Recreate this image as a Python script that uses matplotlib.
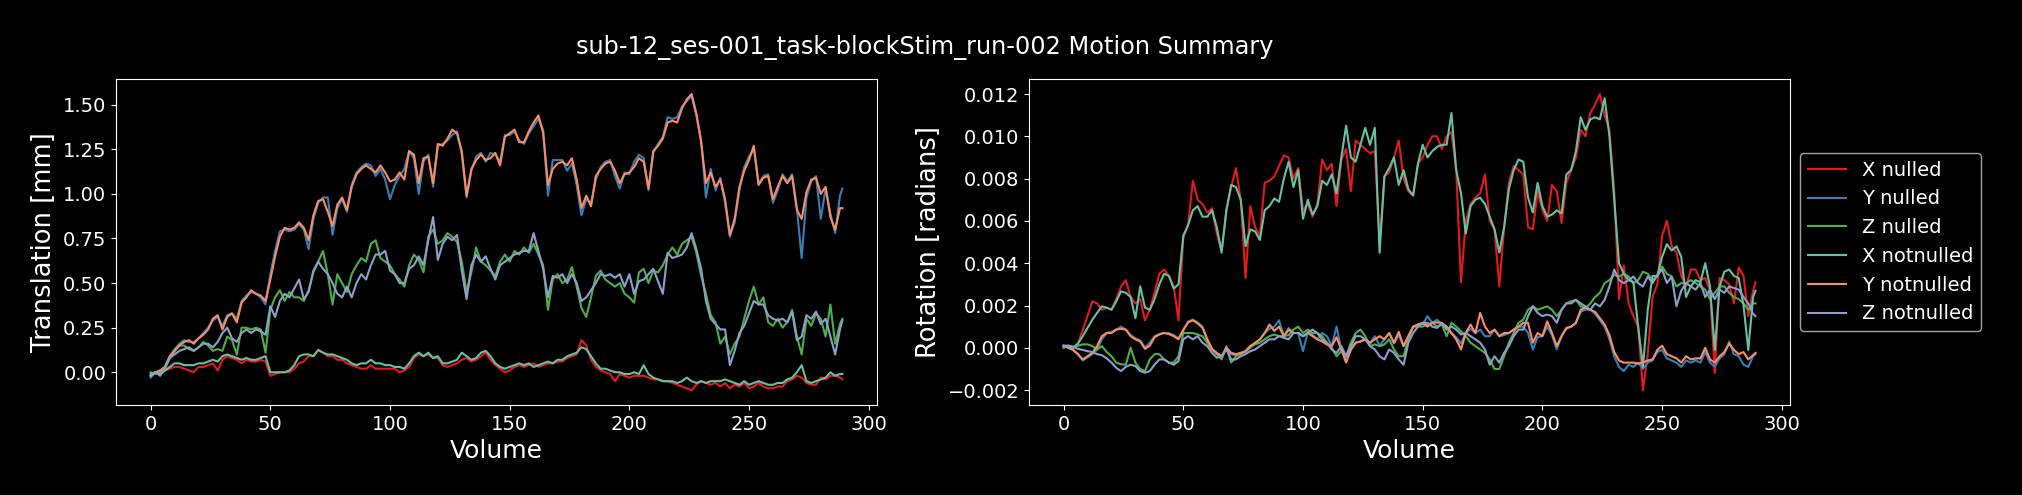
import matplotlib

matplotlib.use("Agg")
import matplotlib.pyplot as plt

plt.style.use("dark_background")

TITLE = "sub-12_ses-001_task-blockStim_run-002 Motion Summary"
LABELS = ["X nulled", "Y nulled", "Z nulled", "X notnulled", "Y notnulled", "Z notnulled"]
COLORS = ["#e41a1c", "#377eb8", "#4daf4a", "#66c2a5", "#fc8d62", "#8da0cb"]

# volumes read every second frame, plus the last one
volumes = list(range(0, 289, 2)) + [289]

# --- translation [mm] ---
trans_x_nulled = [
    -0.02, 0.00, -0.01, 0.01, 0.02, 0.03, 0.03, 0.02, 0.01, 0.00,
    0.03, 0.03, 0.04, 0.05, 0.01, 0.07, 0.09, 0.08, 0.07, 0.05,
    0.07, 0.06, 0.06, 0.07, 0.06, -0.02, -0.01, 0.00, 0.00, 0.00,
    0.02, 0.05, 0.06, 0.09, 0.09, 0.125, 0.11, 0.09, 0.09, 0.07,
    0.07, 0.05, 0.04, 0.03, 0.02, 0.02, 0.04, 0.02, 0.02, 0.02,
    0.02, 0.02, 0.00, 0.01, 0.03, 0.08, 0.10, 0.09, 0.10, 0.08,
    0.08, 0.04, 0.03, 0.04, 0.05, 0.07, 0.08, 0.06, 0.07, 0.09,
    0.11, 0.07, 0.04, 0.02, 0.00, 0.01, 0.03, 0.04, 0.03, 0.04,
    0.05, 0.03, 0.04, 0.05, 0.05, 0.06, 0.06, 0.08, 0.09, 0.10,
    0.18, 0.15, 0.07, 0.03, 0.01, 0.00, -0.01, -0.05, -0.01, -0.02,
    -0.03, -0.02, -0.02, -0.02, -0.03, -0.04, -0.04, -0.05, -0.05, -0.06,
    -0.07, -0.08, -0.09, -0.10, -0.07, -0.05, -0.06, -0.07, -0.06, -0.08,
    -0.06, -0.09, -0.07, -0.08, -0.06, -0.09, -0.08, -0.06, -0.08, -0.09,
    -0.09, -0.08, -0.08, -0.05, -0.04, -0.02, -0.03, -0.06, -0.07, -0.07,
    -0.03, -0.04, -0.02, -0.02, -0.03, -0.04,
]
trans_y_nulled = [
    -0.03, 0.00, 0.01, 0.03, 0.09, 0.13, 0.16, 0.18, 0.17, 0.17,
    0.19, 0.22, 0.25, 0.29, 0.31, 0.26, 0.32, 0.33, 0.30, 0.40,
    0.43, 0.45, 0.44, 0.42, 0.38, 0.55, 0.68, 0.79, 0.80, 0.79,
    0.80, 0.83, 0.80, 0.69, 0.86, 0.95, 0.98, 0.98, 0.77, 0.92,
    0.97, 0.90, 1.05, 1.12, 1.15, 1.17, 1.16, 1.10, 1.14, 1.08,
    0.97, 1.05, 1.10, 1.14, 1.24, 1.20, 1.00, 1.18, 1.22, 1.04,
    1.27, 1.28, 1.30, 1.33, 1.35, 1.22, 0.98, 1.13, 1.21, 1.23,
    1.18, 1.23, 1.22, 1.18, 1.33, 1.33, 1.35, 1.30, 1.28, 1.34,
    1.38, 1.42, 1.36, 0.99, 1.19, 1.19, 1.19, 1.13, 1.17, 1.05,
    0.88, 0.97, 0.95, 1.08, 1.15, 1.18, 1.19, 1.10, 1.03, 1.12,
    1.11, 1.18, 1.22, 1.20, 1.02, 1.23, 1.28, 1.32, 1.43, 1.42,
    1.43, 1.49, 1.52, 1.55, 1.44, 1.30, 0.98, 1.14, 1.02, 1.09,
    0.95, 0.76, 0.84, 1.02, 1.15, 1.21, 1.25, 1.06, 1.10, 1.11,
    0.95, 1.02, 1.11, 1.07, 1.11, 0.92, 0.64, 0.98, 1.07, 1.10,
    0.86, 1.03, 0.89, 0.78, 0.99, 1.03,
]
trans_z_nulled = [
    0.00, -0.01, 0.00, 0.02, 0.08, 0.12, 0.15, 0.15, 0.13, 0.12,
    0.14, 0.17, 0.15, 0.12, 0.13, 0.12, 0.20, 0.18, 0.10, 0.25,
    0.25, 0.24, 0.25, 0.24, 0.11, 0.35, 0.42, 0.46, 0.40, 0.45,
    0.42, 0.42, 0.40, 0.46, 0.56, 0.62, 0.68, 0.55, 0.38, 0.55,
    0.50, 0.45, 0.55, 0.60, 0.64, 0.62, 0.72, 0.74, 0.64, 0.62,
    0.60, 0.55, 0.52, 0.48, 0.60, 0.66, 0.63, 0.56, 0.76, 0.80,
    0.72, 0.74, 0.78, 0.76, 0.73, 0.62, 0.45, 0.56, 0.70, 0.62,
    0.60, 0.57, 0.54, 0.62, 0.66, 0.62, 0.68, 0.66, 0.70, 0.67,
    0.72, 0.66, 0.60, 0.35, 0.52, 0.55, 0.50, 0.52, 0.59, 0.48,
    0.36, 0.31, 0.42, 0.54, 0.57, 0.52, 0.50, 0.48, 0.50, 0.44,
    0.42, 0.39, 0.56, 0.58, 0.50, 0.57, 0.56, 0.60, 0.66, 0.70,
    0.66, 0.72, 0.74, 0.76, 0.67, 0.54, 0.44, 0.32, 0.28, 0.16,
    0.20, 0.10, 0.16, 0.20, 0.30, 0.40, 0.48, 0.38, 0.42, 0.28,
    0.26, 0.30, 0.25, 0.28, 0.35, 0.20, 0.10, 0.30, 0.26, 0.33,
    0.30, 0.20, 0.38, 0.16, 0.27, 0.30,
]
trans_x_notnulled = [
    -0.01, 0.00, -0.01, 0.01, 0.03, 0.05, 0.05, 0.04, 0.04, 0.04,
    0.05, 0.05, 0.06, 0.07, 0.06, 0.09, 0.10, 0.09, 0.08, 0.07,
    0.08, 0.07, 0.07, 0.08, 0.09, 0.00, 0.00, 0.00, 0.00, 0.01,
    0.04, 0.09, 0.10, 0.10, 0.09, 0.125, 0.11, 0.10, 0.10, 0.09,
    0.08, 0.07, 0.05, 0.04, 0.05, 0.05, 0.07, 0.05, 0.05, 0.04,
    0.04, 0.03, 0.03, 0.02, 0.05, 0.09, 0.11, 0.09, 0.11, 0.08,
    0.09, 0.05, 0.05, 0.06, 0.07, 0.11, 0.09, 0.07, 0.08, 0.11,
    0.12, 0.09, 0.05, 0.03, 0.02, 0.03, 0.04, 0.05, 0.04, 0.05,
    0.03, 0.04, 0.05, 0.06, 0.05, 0.07, 0.07, 0.09, 0.10, 0.11,
    0.14, 0.13, 0.09, 0.05, 0.02, 0.02, 0.01, 0.00, 0.00, -0.01,
    -0.01, 0.00, -0.01, 0.04, -0.01, -0.03, -0.04, -0.05, -0.05, -0.05,
    -0.06, -0.05, -0.03, -0.05, -0.06, -0.05, -0.06, -0.05, -0.05, -0.05,
    -0.04, -0.05, -0.06, -0.07, -0.05, -0.07, -0.06, -0.05, -0.06, -0.07,
    -0.07, -0.06, -0.06, -0.04, -0.03, 0.00, 0.04, -0.05, -0.06, -0.05,
    -0.04, -0.03, 0.00, -0.02, -0.01, -0.01,
]
trans_y_notnulled = [
    -0.02, 0.00, 0.01, 0.03, 0.09, 0.12, 0.15, 0.17, 0.18, 0.16,
    0.19, 0.21, 0.24, 0.30, 0.32, 0.24, 0.31, 0.33, 0.28, 0.39,
    0.42, 0.46, 0.44, 0.43, 0.40, 0.52, 0.65, 0.76, 0.81, 0.80,
    0.81, 0.84, 0.81, 0.74, 0.88, 0.96, 0.97, 0.90, 0.82, 0.94,
    0.98, 0.91, 1.04, 1.11, 1.14, 1.16, 1.14, 1.12, 1.16, 1.12,
    1.07, 1.08, 1.12, 1.08, 1.24, 1.22, 1.06, 1.20, 1.21, 1.06,
    1.28, 1.27, 1.31, 1.36, 1.34, 1.24, 0.99, 1.14, 1.19, 1.22,
    1.19, 1.20, 1.23, 1.16, 1.32, 1.34, 1.36, 1.29, 1.29, 1.35,
    1.40, 1.44, 1.34, 1.05, 1.14, 1.17, 1.18, 1.16, 1.20, 1.08,
    0.92, 0.99, 0.93, 1.10, 1.14, 1.17, 1.18, 1.13, 1.06, 1.11,
    1.12, 1.15, 1.20, 1.18, 1.03, 1.24, 1.27, 1.31, 1.40, 1.41,
    1.40, 1.48, 1.53, 1.56, 1.45, 1.29, 1.06, 1.12, 1.04, 1.08,
    0.97, 0.77, 0.86, 1.04, 1.13, 1.19, 1.27, 1.05, 1.09, 1.10,
    0.97, 1.04, 1.10, 1.06, 1.10, 0.91, 0.86, 1.01, 1.08, 1.09,
    1.00, 1.04, 0.87, 0.80, 0.92, 0.92,
]
trans_z_notnulled = [
    -0.02, 0.00, -0.02, 0.03, 0.08, 0.10, 0.12, 0.13, 0.14, 0.12,
    0.14, 0.16, 0.16, 0.14, 0.17, 0.22, 0.25, 0.19, 0.17, 0.22,
    0.24, 0.22, 0.24, 0.23, 0.21, 0.37, 0.31, 0.40, 0.44, 0.42,
    0.47, 0.52, 0.41, 0.45, 0.57, 0.62, 0.58, 0.55, 0.50, 0.44,
    0.42, 0.48, 0.42, 0.50, 0.55, 0.52, 0.60, 0.66, 0.66, 0.68,
    0.57, 0.55, 0.50, 0.50, 0.58, 0.60, 0.65, 0.60, 0.74, 0.87,
    0.63, 0.72, 0.76, 0.74, 0.77, 0.57, 0.41, 0.60, 0.66, 0.62,
    0.65, 0.58, 0.52, 0.60, 0.62, 0.64, 0.66, 0.67, 0.68, 0.68,
    0.78, 0.68, 0.58, 0.42, 0.54, 0.53, 0.55, 0.50, 0.55, 0.50,
    0.40, 0.42, 0.46, 0.50, 0.55, 0.54, 0.55, 0.53, 0.55, 0.48,
    0.55, 0.44, 0.51, 0.52, 0.55, 0.58, 0.51, 0.44, 0.67, 0.64,
    0.65, 0.66, 0.70, 0.78, 0.69, 0.58, 0.40, 0.30, 0.27, 0.24,
    0.24, 0.04, 0.12, 0.22, 0.26, 0.33, 0.40, 0.38, 0.38, 0.32,
    0.30, 0.29, 0.30, 0.28, 0.34, 0.18, 0.20, 0.32, 0.30, 0.34,
    0.27, 0.30, 0.20, 0.10, 0.24, 0.29,
]

# --- rotation, in milliradians ---
rot_x_nulled_mrad = [
    0.0, 0.1, 0.0, 0.2, 0.86, 1.5, 2.2, 2.1, 1.8, 1.9,
    1.8, 2.3, 2.9, 3.2, 2.4, 2.1, 2.3, 1.3, 1.8, 2.6,
    3.5, 3.7, 3.4, 2.9, 1.3, 5.2, 5.8, 7.9, 7.0, 6.8,
    6.4, 6.6, 5.4, 4.6, 6.5, 7.6, 8.5, 7.0, 3.3, 6.7,
    5.7, 5.3, 7.8, 7.9, 8.1, 8.6, 9.1, 9.0, 8.0, 8.5,
    6.5, 6.8, 6.2, 6.8, 8.9, 8.4, 8.7, 6.7, 8.9, 9.4,
    7.4, 9.8, 9.6, 9.4, 9.2, 9.3, 5.0, 8.1, 8.3, 9.0,
    9.8, 8.0, 7.4, 7.2, 8.7, 9.0, 9.6, 10.0, 10.0, 9.4,
    10.0, 10.2, 8.4, 3.1, 6.0, 6.8, 7.1, 7.3, 8.2, 6.0,
    5.6, 2.9, 5.7, 7.8, 8.6, 8.4, 8.2, 5.7, 5.6, 7.4,
    6.5, 6.0, 7.7, 7.4, 5.9, 7.8, 8.4, 9.0, 10.3, 10.0,
    11.1, 11.5, 12.0, 11.0, 10.3, 7.4, 2.3, 3.9, 2.1, 1.5,
    1.0, -2.0, -0.3, 2.4, 3.0, 5.3, 6.0, 4.8, 4.5, 3.4,
    2.9, 3.7, 3.7, 3.2, 3.3, 2.7, -1.2, 3.3, 3.2, 3.0,
    2.1, 3.8, 3.4, 1.5, 2.7, 3.1,
]
rot_y_nulled_mrad = [
    0.1, 0.0, -0.1, -0.3, -0.6, -0.45, -0.3, -0.08, 0.4, 0.7,
    0.75, 0.86, 1.0, 0.86, 0.6, 0.45, 0.35, 0.0, 0.24, 0.55,
    0.65, 0.7, 0.7, 0.6, 0.45, 0.8, 1.25, 1.33, 1.2, 1.0,
    0.4, -0.08, -0.3, -0.45, 0.0, -0.3, -0.35, -0.24, -0.2, 0.0,
    0.2, 0.4, 0.7, 0.9, 1.0, 1.3, 0.55, 0.94, 0.7, 0.7,
    -0.16, 0.75, 0.6, 0.4, 0.7, 0.55, 0.08, 1.0, -0.08, -0.5,
    -0.1, 0.24, 0.3, 0.4, 0.2, 0.55, 0.1, 0.4, 0.7, 0.2,
    0.6, 0.08, 0.55, 1.0, 1.1, 1.1, 1.5, 1.18, 1.33, 1.1,
    1.0, 0.7, 0.5, 0.2, 0.7, 0.9, 0.7, 0.86, 0.55, 0.55,
    0.86, 0.55, 0.6, 0.7, 0.86, 1.0, 1.0, 0.7, -0.08, 0.5,
    0.55, 1.0, 0.6, -0.08, 0.55, 0.9, 1.0, 1.18, 1.7, 1.8,
    1.8, 1.6, 1.3, 1.0, 0.4, -0.4, -0.9, -1.1, -0.8, -0.9,
    -0.7, -1.0, -0.7, -0.6, -0.2, -0.1, -0.5, -0.6, -0.7, -0.9,
    -0.6, -0.7, -0.6, -0.7, -0.2, -0.7, -0.9, -0.5, -0.3, 0.3,
    -0.3, -0.4, -0.8, -0.9, -0.4, -0.3,
]
rot_z_nulled_mrad = [
    0.0, 0.1, 0.05, 0.1, 0.16, 0.16, 0.08, -0.08, 0.08, -0.2,
    -0.4, -0.7, -0.78, -0.8, 0.0, -0.7, -1.0, -1.1, -0.55, -0.3,
    -0.3, -0.55, -0.7, -0.7, -0.4, 0.7, 0.7, 0.7, 0.63, 0.55,
    0.24, -0.08, -0.3, -0.55, 0.08, -0.7, -0.4, -0.3, -0.16, 0.08,
    0.16, 0.24, 0.4, 0.55, 0.63, 0.55, 0.55, 0.6, 0.86, 1.0,
    0.7, 0.86, 0.7, 0.7, 0.55, 0.24, 0.0, -0.4, -0.16, -0.4,
    0.24, 0.7, 0.86, 0.55, 0.08, 0.16, 0.08, 0.16, 0.4, -0.08,
    -0.4, -0.4, 0.4, 1.0, 1.0, 1.0, 1.1, 1.18, 1.0, 1.1,
    0.55, 1.18, 1.0, 0.78, 0.55, 0.24, 0.08, -0.08, -0.24, -0.55,
    -1.0, -1.0, -0.4, 0.24, 0.7, 1.18, 1.33, 1.8, 1.96, 1.8,
    1.88, 1.96, 1.8, 1.5, 1.8, 2.1, 2.2, 2.27, 1.96, 1.88,
    2.1, 2.4, 2.6, 3.06, 3.2, 3.45, 3.37, 3.5, 3.37, 3.06,
    3.2, 3.6, 3.5, 3.2, 3.37, 3.84, 3.5, 3.37, 2.9, 3.06,
    3.06, 3.2, 3.06, 2.9, 2.75, 2.3, 2.6, 2.9, 2.9, 2.6,
    2.4, 2.3, 2.1, 1.8, 2.1, 2.1,
]
rot_x_notnulled_mrad = [
    0.1, 0.1, 0.0, 0.2, 0.55, 0.94, 1.33, 1.65, 1.96, 1.9,
    1.8, 2.2, 2.67, 2.6, 2.4, 1.4, 2.9, 1.9, 1.8, 2.3,
    3.0, 3.5, 3.4, 2.8, 3.0, 5.3, 5.8, 6.5, 6.7, 6.2,
    6.2, 6.5, 5.7, 4.5, 6.5, 7.7, 7.6, 7.0, 4.8, 5.6,
    5.5, 5.1, 6.5, 6.7, 7.06, 6.9, 8.0, 8.8, 7.6, 8.4,
    6.1, 7.0, 6.3, 6.7, 7.9, 7.7, 8.2, 7.3, 9.0, 10.5,
    9.0, 8.8, 9.6, 10.4, 9.6, 10.4, 4.5, 8.1, 8.5, 9.0,
    7.7, 8.4, 7.5, 7.2, 8.7, 9.6, 9.0, 9.3, 9.5, 9.6,
    9.6, 11.1, 8.4, 7.3, 5.4, 6.7, 7.0, 7.1, 6.8, 6.2,
    5.6, 4.5, 5.7, 7.5, 8.4, 8.9, 8.8, 7.1, 6.4, 7.8,
    6.7, 6.2, 6.3, 6.5, 6.35, 8.2, 8.4, 9.3, 10.9, 10.3,
    10.8, 10.9, 10.8, 11.8, 10.0, 7.0, 4.0, 3.5, 3.2, 3.1,
    1.0, -0.9, 1.8, 3.4, 3.4, 4.3, 4.9, 4.6, 4.8, 4.3,
    2.4, 2.9, 3.2, 3.1, 4.0, 2.9, -0.1, 2.9, 3.6, 3.7,
    3.4, 3.3, 2.0, -0.1, 2.4, 2.7,
]
rot_y_notnulled_mrad = [
    0.1, 0.0, -0.1, -0.3, -0.55, -0.4, -0.24, 0.08, 0.55, 0.7,
    0.7, 0.86, 0.9, 0.86, 0.55, 0.4, 0.3, -0.05, 0.1, 0.5,
    0.63, 0.7, 0.65, 0.55, 0.4, 0.86, 1.2, 1.3, 1.15, 0.95,
    0.4, -0.05, -0.24, -0.4, 0.0, -0.24, -0.3, -0.24, -0.16, 0.08,
    0.24, 0.4, 0.7, 1.1, 0.8, 1.0, 0.55, 0.85, 0.7, 0.7,
    0.55, 0.7, 0.55, 0.4, 0.3, 0.15, 0.08, 0.5, -0.08, -0.7,
    -0.08, 0.24, 0.3, 0.4, 0.24, 0.4, 0.55, 0.4, 0.7, 0.24,
    0.75, 0.08, 0.55, 1.0, 1.1, 1.18, 1.0, 1.18, 1.2, 1.18,
    1.0, 0.7, 0.4, -0.08, 0.7, 1.1, 0.7, 1.65, 1.0, 0.7,
    0.86, 0.55, 0.7, 0.7, 0.86, 1.0, 1.18, 1.18, 0.24, 0.7,
    0.55, 1.25, 0.7, 0.08, 0.55, 0.94, 1.0, 1.18, 1.8, 1.9,
    1.8, 1.7, 1.4, 1.1, 0.6, -0.2, -0.6, -0.7, -0.7, -0.7,
    -0.75, -0.7, -0.6, -0.55, -0.1, 0.1, -0.3, -0.4, -0.5, -0.7,
    -0.4, -0.55, -0.5, -0.5, 0.0, -0.55, -0.7, -0.4, -0.2, 0.2,
    -0.1, -0.3, -0.2, -0.55, -0.35, -0.24,
]
rot_z_notnulled_mrad = [
    0.08, 0.08, 0.05, -0.05, -0.1, -0.16, -0.2, -0.3, -0.35, -0.5,
    -0.7, -0.95, -1.1, -0.9, -0.8, -0.86, -1.1, -1.18, -1.1, -0.8,
    -0.55, -0.55, -0.7, -0.8, -0.63, 0.4, 0.55, 0.4, 0.55, 0.24,
    0.08, -0.24, -0.47, -0.4, -0.08, -0.55, -0.55, -0.4, -0.3, -0.16,
    -0.08, 0.08, 0.24, 0.4, 0.4, 0.55, 0.47, 0.4, 0.7, 0.7,
    0.55, 0.7, 0.86, 0.7, 0.4, 0.24, -0.08, -0.24, 0.08, -0.4,
    0.08, 0.55, 0.55, 0.4, 0.08, -0.08, -0.4, -0.55, -0.08, -0.24,
    -0.55, -0.8, 0.24, 0.7, 1.0, 1.18, 1.18, 1.0, 0.94, 1.18,
    0.86, 1.0, 0.86, 0.63, 0.7, 0.55, 0.4, 0.24, -0.08, -0.8,
    -0.4, -0.7, -0.24, 0.08, 0.55, 0.86, 0.86, 1.5, 1.96, 1.65,
    1.5, 1.57, 1.5, 1.18, 1.8, 2.1, 2.1, 2.27, 2.1, 1.96,
    1.8, 2.1, 1.96, 2.27, 2.9, 3.7, 3.2, 3.06, 3.2, 3.37,
    3.06, 2.9, 3.37, 3.06, 3.45, 3.7, 3.06, 3.37, 1.96, 2.7,
    3.06, 2.9, 2.75, 3.06, 2.4, 2.75, 2.3, 2.75, 2.6, 2.9,
    2.83, 2.75, 2.4, 2.1, 1.6, 1.5,
]

translation = [trans_x_nulled, trans_y_nulled, trans_z_nulled,
               trans_x_notnulled, trans_y_notnulled, trans_z_notnulled]
rotation = [[v / 1000 for v in s] for s in (
    rot_x_nulled_mrad, rot_y_nulled_mrad, rot_z_nulled_mrad,
    rot_x_notnulled_mrad, rot_y_notnulled_mrad, rot_z_notnulled_mrad)]

for s in translation + rotation:
    assert len(s) == len(volumes), len(s)

fig = plt.figure(figsize=(20.22, 4.95), dpi=100, facecolor="black")
ax_t = fig.add_axes([0.0574, 0.182, 0.3763, 0.658])
ax_r = fig.add_axes([0.5089, 0.182, 0.3764, 0.658])

for ax, series, ylabel in ((ax_t, translation, "Translation [mm]"),
                           (ax_r, rotation, "Rotation [radians]")):
    for vals, color, label in zip(series, COLORS, LABELS):
        ax.plot(volumes, vals, color=color, lw=1.5, label=label)
    ax.set_xlabel("Volume", fontsize=18)
    ax.set_ylabel(ylabel, fontsize=18.5)
    ax.tick_params(labelsize=14)
    ax.set_xticks([0, 50, 100, 150, 200, 250, 300])

ax_r.legend(loc="center left", bbox_to_anchor=(1.0, 0.5), fontsize=14)
fig.text(925 / 2022, 1 - 47 / 495, TITLE, fontsize=17.3, ha="center", va="center")

fig.savefig("out.png", dpi=100, facecolor="black")
